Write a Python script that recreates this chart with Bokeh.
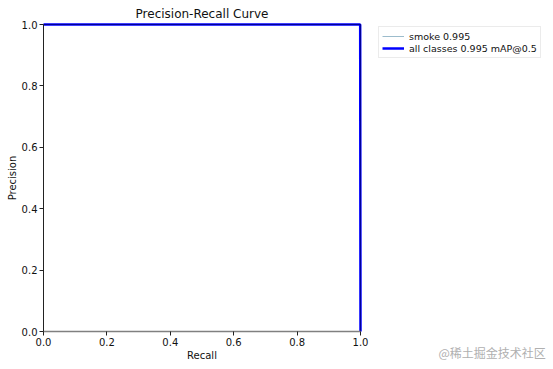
from bokeh.plotting import figure
from bokeh.models import (Range1d, Legend, LegendItem, FixedTicker, CustomJSTickFormatter,
                          Label, LinearAxis)
from bokeh.embed import file_html
from bokeh.resources import INLINE

# data
recall = [0.0, 0.25, 0.5, 0.75, 0.999, 1.0]
precision_smoke = [1.0, 1.0, 1.0, 1.0, 1.0, 0.0]
precision_all = [1.0, 1.0, 1.0, 1.0, 1.0, 0.0]
smoke_label = "smoke 0.995"
all_label = "all classes 0.995 mAP@0.5"
ticks = [0.0, 0.2, 0.4, 0.6, 0.8, 1.0]
title_text = "Precision-Recall Curve"
watermark = "@稀土掘金技术社区"

FONT = "DejaVu Sans"
W, H = 553, 369
# frame of the axes box in canvas pixels
FL, FR, FT, FB = 43, 360, 24, 331
sx = FR - FL
sy = FB - FT

p = figure(width=W, height=H, output_backend="svg", toolbar_location=None,
           x_range=Range1d(-FL / sx, 1 + (W - FR) / sx),
           y_range=Range1d(-(H - FB) / sy, 1 + FT / sy),
           x_axis_location=None, y_axis_location=None,
           min_border=0, min_border_left=0, min_border_right=0,
           min_border_top=0, min_border_bottom=0)
p.background_fill_color = "white"
p.border_fill_color = "white"
p.outline_line_color = None
p.grid.visible = False

xax = LinearAxis(fixed_location=0, bounds=(0, 1), axis_label="Recall")
yax = LinearAxis(fixed_location=0, bounds=(0, 1), axis_label="Precision")
for ax in (xax, yax):
    ax.ticker = FixedTicker(ticks=ticks)
    ax.formatter = CustomJSTickFormatter(code="return tick.toFixed(1);")
    ax.major_label_text_font = FONT
    ax.major_label_text_font_size = "10px"
    ax.major_label_text_color = "#111111"
    ax.axis_label_text_font = FONT
    ax.axis_label_text_font_size = "10px"
    ax.axis_label_text_font_style = "normal"
    ax.axis_label_text_color = "#111111"
    ax.minor_tick_line_color = None
    ax.major_tick_out = 4
    ax.major_tick_in = 0
    ax.major_tick_line_color = "#222222"
    ax.major_label_standoff = 2
    ax.axis_label_standoff = 1
xax.axis_line_color = "#808080"
xax.axis_line_width = 1.5
yax.axis_line_color = "#222222"
p.add_layout(xax, "below")
p.add_layout(yax, "left")

r1 = p.line(recall, precision_smoke, line_color="#9cbccc", line_width=1)
r2 = p.line(recall, precision_all, line_color="#0000ff", line_width=2.5)
# spines over lines (top and right)
p.line([0, 1], [1, 1], line_color="#000030", line_width=1, line_alpha=0.5)
p.line([1, 1], [0, 1], line_color="#000030", line_width=1, line_alpha=0.5)

legend = Legend(items=[LegendItem(label=smoke_label, renderers=[r1]),
                       LegendItem(label=all_label, renderers=[r2])],
                location=(378, H - 58))
legend.label_text_font = FONT
legend.label_text_font_size = "9.5px"
legend.label_text_color = "#111111"
legend.border_line_color = "#d8d8d8"
legend.border_line_width = 1
legend.padding = 3
legend.spacing = 0
legend.margin = 0
legend.glyph_width = 22
legend.glyph_height = 12
legend.label_height = 12
legend.label_standoff = 5
legend.background_fill_alpha = 1
p.add_layout(legend, "center")

p.add_layout(Label(x=0.5, y=1.0, y_offset=4, text=title_text, text_align="center",
                   text_baseline="bottom", text_font=FONT, text_font_size="12px",
                   text_color="#111111"))
p.add_layout(Label(x=(438 - FL) / sx, y=(FB - 352) / sy, text=watermark, text_align="left",
                   text_baseline="middle", text_font="Noto Sans CJK SC",
                   text_font_size="12px", text_color="#b0b0b0"))

open("out.html", "w").write(file_html(p, INLINE))
